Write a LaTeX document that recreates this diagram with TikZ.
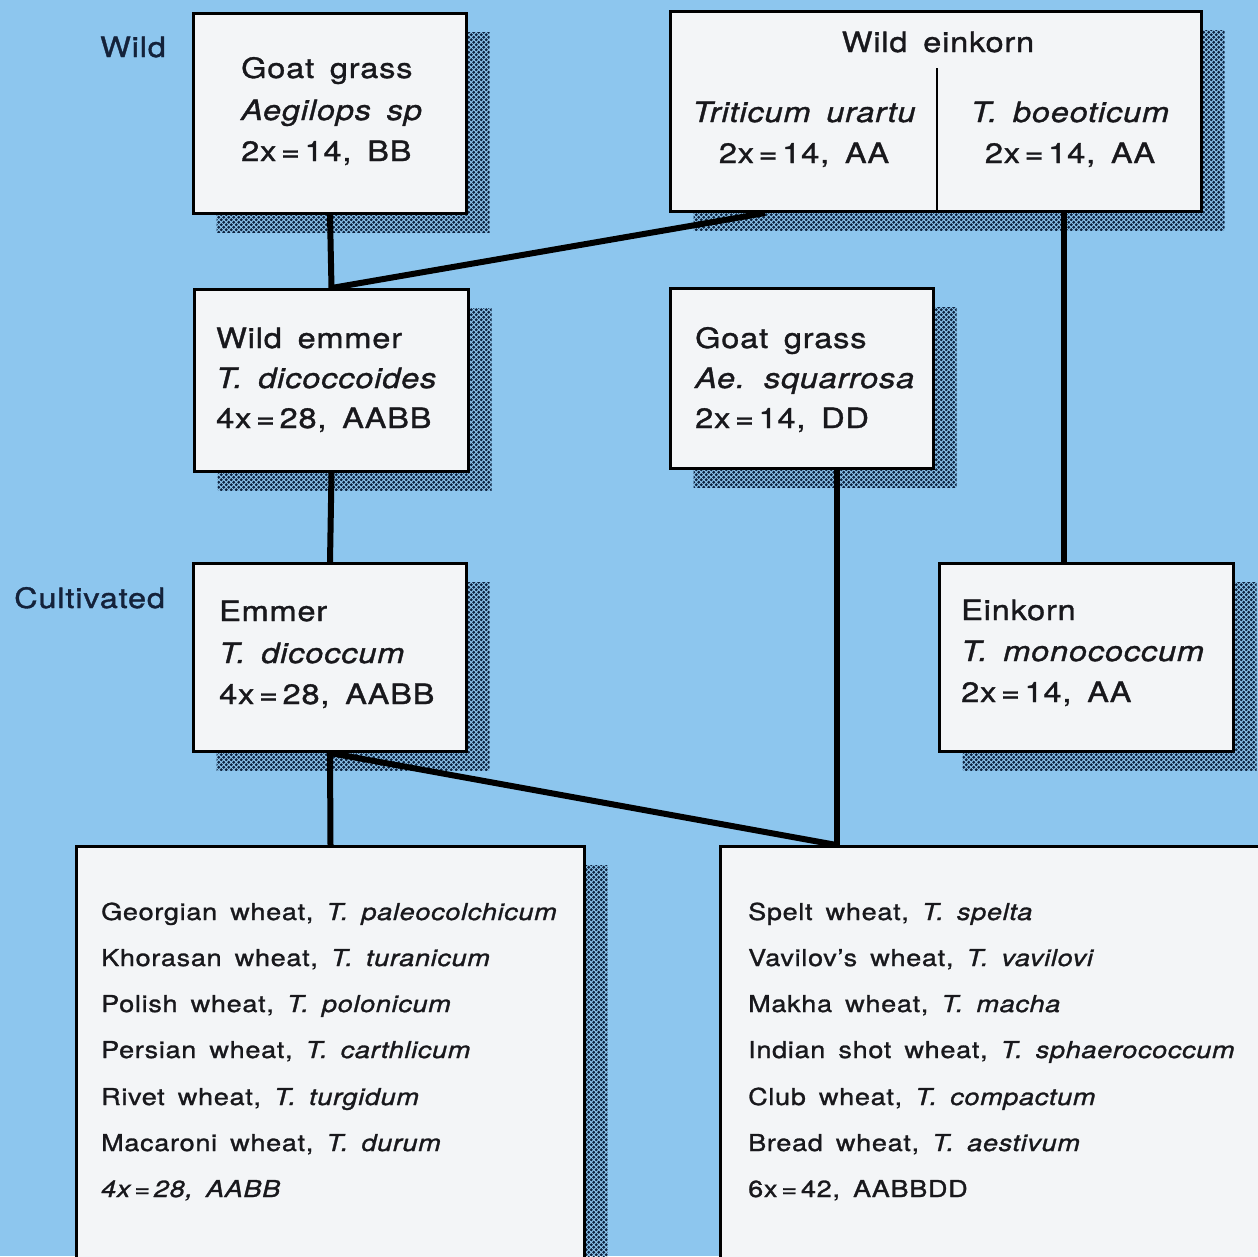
\documentclass[tikz,border=0pt]{standalone}
\usepackage{fontspec}
\setmainfont{TeX Gyre Heros}[LetterSpace=3, FakeStretch=1.16, WordSpace=1.6, FakeBold=1.2]
\usetikzlibrary{shadows,patterns,calc}
\definecolor{bgblue}{HTML}{8DC6EE}
\definecolor{boxfill}{HTML}{F3F5F7}
\definecolor{shadowc}{HTML}{0E2340}
\definecolor{textc}{HTML}{18181C}
\definecolor{lblc}{HTML}{14223A}
\pgfdeclarepatternformonly{halftone}{\pgfqpoint{-1pt}{-1pt}}{\pgfqpoint{6pt}{6pt}}{\pgfqpoint{5pt}{5pt}}{%
  \pgfpathcircle{\pgfqpoint{1.25pt}{1.25pt}}{1.6pt}%
  \pgfpathcircle{\pgfqpoint{3.75pt}{3.75pt}}{1.6pt}%
  \pgfusepath{fill}}
\begin{document}
\begin{tikzpicture}[x=1pt,y=-1pt,
  box/.style={rectangle, draw=black, line width=3pt, fill=boxfill, inner sep=0pt,
    anchor=north west,
    drop shadow={shadow xshift=23pt, shadow yshift=-19pt, opacity=1,
      pattern=halftone, pattern color=shadowc}},
  big/.style={inner sep=0pt, anchor=base west, font=\fontsize{28}{34}\selectfont, text=textc},
  bigc/.style={big, anchor=base},
  small/.style={inner sep=0pt, anchor=base west, font=\fontsize{23.3}{28}\selectfont, text=textc},
  lbl/.style={inner sep=0pt, anchor=base west, font=\fontsize{28}{34}\selectfont, text=lblc},
  link/.style={line width=6pt, draw=black},
  divider/.style={line width=2.5pt, draw=black}
]
\useasboundingbox (0,0) rectangle (1258,1256);
\fill[bgblue] (0,0) rectangle (1258,1256);
\clip (0,0) rectangle (1258,1256);

% boxes
\node[box, minimum width=273pt, minimum height=200pt] (gg) at (192,12) {};
\node[box, minimum width=531pt, minimum height=200pt] (ek) at (669,10) {};
\node[box, minimum width=274pt, minimum height=182pt] (we) at (193,288) {};
\node[box, minimum width=263pt, minimum height=180pt] (sq) at (669,287) {};
\node[box, minimum width=273pt, minimum height=188pt] (em) at (192,562) {};
\node[box, minimum width=294pt, minimum height=188pt] (eo) at (938,562) {};
\node[box, minimum width=508pt, minimum height=430pt] (tt) at (75,845) {};
\node[box, minimum width=560pt, minimum height=430pt] (ta) at (719,845) {};

% side labels
\node[lbl] (lwild) at (100,57) {Wild};
\node[lbl] (lcult) at (14,608) {Cultivated};

% goat grass
\node[big] (gg1) at (241,78) {Goat grass};
\node[big] (gg2) at (241,120) {\itshape Aegilops sp};
\node[big] (gg3) at (241,161) {2x\,=\,14, BB};

% wild einkorn
\node[bigc] (ek0) at (938,52) {Wild einkorn};
\node[bigc] (ek1) at (804,122) {\itshape Triticum urartu};
\node[bigc] (ek2) at (804,163) {2x\,=\,14, AA};
\node[bigc] (ek3) at (1070,122) {\itshape T. boeoticum};
\node[bigc] (ek4) at (1070,163) {2x\,=\,14, AA};
\coordinate (ekdiv) at (937,68);
\draw[divider] (ekdiv) -- (ekdiv |- ek.south);

% wild emmer
\node[big] (we1) at (216,348) {Wild emmer};
\node[big] (we2) at (216,388) {\itshape T. dicoccoides};
\node[big] (we3) at (216,428) {4x\,=\,28, AABB};

% goat grass squarrosa
\node[big] (sq1) at (695,348) {Goat grass};
\node[big] (sq2) at (695,388) {\itshape Ae. squarrosa};
\node[big] (sq3) at (695,428) {2x\,=\,14, DD};

% emmer
\node[big] (em1) at (219,621) {Emmer};
\node[big] (em2) at (219,663) {\itshape T. dicoccum};
\node[big] (em3) at (219,704) {4x\,=\,28, AABB};

% einkorn
\node[big] (eo1) at (961,620) {Einkorn};
\node[big] (eo2) at (961,661) {\itshape T. monococcum};
\node[big] (eo3) at (961,702) {2x\,=\,14, AA};

% tetraploid list
\node[small] (tt1) at (101,920) {Georgian wheat, \itshape T. paleocolchicum};
\node[small] (tt2) at (101,966) {Khorasan wheat, \itshape T. turanicum};
\node[small] (tt3) at (101,1012) {Polish wheat, \itshape T. polonicum};
\node[small] (tt4) at (101,1058) {Persian wheat, \itshape T. carthlicum};
\node[small] (tt5) at (101,1105) {Rivet wheat, \itshape T. turgidum};
\node[small] (tt6) at (101,1151) {Macaroni wheat, \itshape T. durum};
\node[small] (tt7) at (101,1197) {\itshape 4x\,=\,28, AABB};

% hexaploid list
\node[small] (ta1) at (748,920) {Spelt wheat, \itshape T. spelta};
\node[small] (ta2) at (748,966) {Vavilov’s wheat, \itshape T. vavilovi};
\node[small] (ta3) at (748,1012) {Makha wheat, \itshape T. macha};
\node[small] (ta4) at (748,1058) {Indian shot wheat, \itshape T. sphaerococcum};
\node[small] (ta5) at (748,1105) {Club wheat, \itshape T. compactum};
\node[small] (ta6) at (748,1151) {Bread wheat, \itshape T. aestivum};
\node[small] (ta7) at (748,1197) {6x\,=\,42, AABBDD};

% connectors
\coordinate (ekl) at ($(ek.south west)!0.18!(ek.south east)$);
\coordinate (ekr) at ($(ek.south west)!0.74!(ek.south east)$);
\coordinate (sqb) at ($(sq.south west)!0.63!(sq.south east)$);
\coordinate (jhex) at (sqb |- ta.north);
\draw[link] (gg.south) -- (we.north);
\draw[link] (we.north) -- (ekl);
\draw[link] (ekr) -- (ekr |- eo.north);
\draw[link] (we.south) -- (em.north);
\draw[link] (sqb) -- (jhex);
\draw[link] (em.south) -- (tt.north);
\draw[link] (em.south) -- (jhex);
\end{tikzpicture}
\end{document}
